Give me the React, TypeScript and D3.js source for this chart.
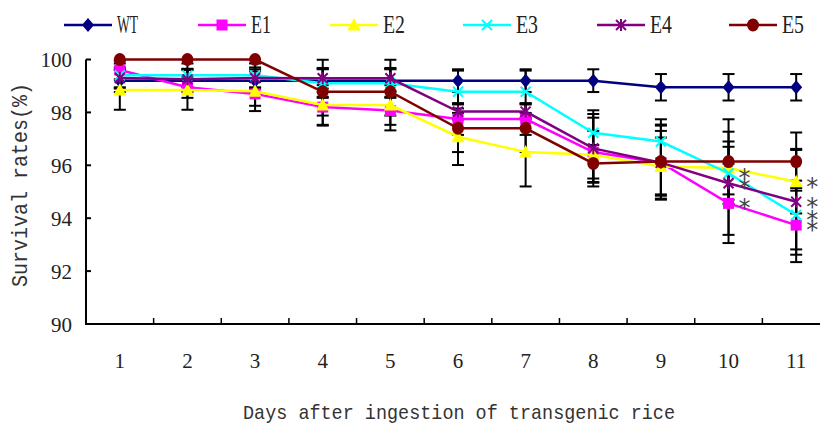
import React from 'react';
import * as d3 from 'd3';

const days = [1, 2, 3, 4, 5, 6, 7, 8, 9, 10, 11];
const seriesNames = ['WT', 'E1', 'E2', 'E3', 'E4', 'E5'];
const wtValues = [99.2, 99.2, 99.2, 99.2, 99.2, 99.2, 99.2, 99.2, 98.95, 98.95, 98.95];
const wtErrors = [0.43, 0.43, 0.43, 0.43, 0.43, 0.43, 0.43, 0.43, 0.5, 0.5, 0.5];
const e1Values = [99.6, 98.95, 98.7, 98.2, 98.07, 97.75, 97.75, 96.5, 96.1, 94.56, 93.74];
const e1Errors = [0.35, 0.4, 0.45, 0.7, 0.75, 0.6, 0.6, 1.3, 1.2, 1.5, 1.4];
const e2Values = [98.85, 98.85, 98.8, 98.28, 98.28, 97.08, 96.5, 96.4, 95.95, 95.9, 95.38];
const e2Errors = [0.75, 0.75, 0.75, 0.75, 0.75, 1.07, 1.3, 0.9, 1.1, 1.0, 1.2];
const e3Values = [99.4, 99.4, 99.4, 99.1, 99.1, 98.78, 98.78, 97.23, 96.9, 95.7, 94.12];
const e3Errors = [0.45, 0.45, 0.45, 0.55, 0.55, 0.8, 0.8, 0.85, 0.84, 1.0, 1.3];
const e4Values = [99.3, 99.25, 99.3, 99.29, 99.29, 98.03, 98.03, 96.64, 96.1, 95.32, 94.62];
const e4Errors = [0.4, 0.4, 0.4, 0.7, 0.7, 0.3, 0.3, 1.3, 1.4, 1.95, 2.0];
const e5Values = [100, 100, 100, 98.78, 98.78, 97.4, 97.4, 96.07, 96.14, 96.14, 96.14];
const e5Errors = [0, 0, 0, 0.9, 0.9, 0.9, 0.9, 0.7, 1.4, 1.6, 1.1];
const yTicks = [90, 92, 94, 96, 98, 100];
const starDays = [10, 10, 10, 11, 11, 11, 11];
const starSeries = ['E3', 'E4', 'E1', 'E2', 'E4', 'E3', 'E1'];
const yTitle = 'Survival rates(%)';
const xTitle = 'Days after ingestion of transgenic rice';

const valuesBy: Record<string, number[]> = { WT: wtValues, E1: e1Values, E2: e2Values, E3: e3Values, E4: e4Values, E5: e5Values };
const errorsBy: Record<string, number[]> = { WT: wtErrors, E1: e1Errors, E2: e2Errors, E3: e3Errors, E4: e4Errors, E5: e5Errors };
const colors: Record<string, string> = { WT: '#000080', E1: '#FF00FF', E2: '#FFFF00', E3: '#00FFFF', E4: '#800080', E5: '#800000' };

const W = 820, H = 425;
const x = d3.scaleBand<number>().domain(days).range([86, 830]).padding(0);
const cx = (d: number) => (x(d) as number) + x.bandwidth() / 2;
const y = d3.scaleLinear().domain([90, 100]).range([324, 59.5]);

function Marker({ name, px, py }: { name: string; px: number; py: number }) {
  const c = colors[name];
  switch (name) {
    case 'WT':
      return <path d={`M${px},${py - 7}L${px + 6},${py}L${px},${py + 7}L${px - 6},${py}Z`} fill={c} />;
    case 'E1':
      return <rect x={px - 5.5} y={py - 5.5} width={11} height={11} fill={c} />;
    case 'E2':
      return <path d={`M${px},${py - 7}L${px + 6.5},${py + 5.5}L${px - 6.5},${py + 5.5}Z`} fill={c} />;
    case 'E3':
      return (
        <g stroke={c} strokeWidth={2}>
          <line x1={px - 5} y1={py - 5} x2={px + 5} y2={py + 5} />
          <line x1={px - 5} y1={py + 5} x2={px + 5} y2={py - 5} />
        </g>
      );
    case 'E4':
      return (
        <g stroke={c} strokeWidth={2}>
          <line x1={px - 5} y1={py - 5} x2={px + 5} y2={py + 5} />
          <line x1={px - 5} y1={py + 5} x2={px + 5} y2={py - 5} />
          <line x1={px} y1={py - 6} x2={px} y2={py + 6} />
        </g>
      );
    default:
      return <ellipse cx={px} cy={py} rx={6} ry={6.5} fill={c} />;
  }
}

export default function App() {
  const line = d3.line<number>().x((_, i) => cx(days[i])).y((v) => y(v));
  const legendX = [64, 198, 330, 463, 597, 729];
  const legendW = [21, 20, 22, 22, 22, 22];
  const boundaries = days.slice(1).map((d) => x(d) as number);
  return (
    <svg width={W} height={H} style={{ position: 'absolute', left: 0, top: 0, background: '#fff' }}>
      <rect width={W} height={H} fill="#fff" />
      {/* legend */}
      {seriesNames.map((s, i) => (
        <g key={s}>
          <line x1={legendX[i]} x2={legendX[i] + 48} y1={25} y2={25} stroke={colors[s]} strokeWidth={2.5} />
          <Marker name={s} px={legendX[i] + 24} py={25} />
          <text x={legendX[i] + 53} y={33} fontFamily="Liberation Serif" fontSize={25} fill="#222"
            textLength={legendW[i]} lengthAdjust="spacingAndGlyphs">{s}</text>
        </g>
      ))}
      {/* axes */}
      <line x1={86} x2={86} y1={y(100)} y2={y(90) + 1} stroke="#000" strokeWidth={2} />
      <line x1={85} x2={830} y1={y(90)} y2={y(90)} stroke="#000" strokeWidth={2} />
      {yTicks.map((t) => (
        <g key={t}>
          <line x1={86} x2={91} y1={y(t)} y2={y(t)} stroke="#000" strokeWidth={2} />
          <text x={72} y={y(t) + 7.5} textAnchor="end" fontFamily="Liberation Serif" fontSize={21} fill="#222">{t}</text>
        </g>
      ))}
      {boundaries.map((b, i) => (
        <line key={i} x1={b} x2={b} y1={y(90)} y2={y(90) - 6} stroke="#000" strokeWidth={1.5} />
      ))}
      {days.map((d) => (
        <text key={d} x={cx(d)} y={368} textAnchor="middle" fontFamily="Liberation Serif" fontSize={21} fill="#222">{d}</text>
      ))}
      <text transform="translate(27,185) rotate(-90)" textAnchor="middle" fontFamily="Liberation Mono" fontSize={22}
        fill="#333" textLength={204} lengthAdjust="spacingAndGlyphs">{yTitle}</text>
      <text x={459} y={419} textAnchor="middle" fontFamily="Liberation Mono" fontSize={21}
        fill="#333" textLength={432} lengthAdjust="spacingAndGlyphs">{xTitle}</text>
      {/* error bars */}
      {seriesNames.map((s) => (
        <g key={s} stroke="#000" strokeWidth={2}>
          {days.map((d, i) => {
            const e = errorsBy[s][i];
            if (!e) return null;
            const v = valuesBy[s][i];
            const px = cx(d);
            return (
              <g key={d}>
                <line x1={px} x2={px} y1={y(v + e)} y2={y(v - e)} />
                <line x1={px - 6} x2={px + 6} y1={y(v + e)} y2={y(v + e)} />
                <line x1={px - 6} x2={px + 6} y1={y(v - e)} y2={y(v - e)} />
              </g>
            );
          })}
        </g>
      ))}
      {/* series */}
      {seriesNames.map((s) => (
        <g key={s}>
          <path d={line(valuesBy[s]) as string} fill="none" stroke={colors[s]} strokeWidth={2.5} />
          {days.map((d, i) => (
            <Marker key={d} name={s} px={cx(d)} py={y(valuesBy[s][i])} />
          ))}
        </g>
      ))}
      {/* significance marks */}
      {starDays.map((d, i) => (
        <text key={i} x={cx(d) + 16} y={y(valuesBy[starSeries[i]][days.indexOf(d)]) + 13} textAnchor="middle"
          fontFamily="DejaVu Sans" fontSize={24} fill="#444">*</text>
      ))}
    </svg>
  );
}
